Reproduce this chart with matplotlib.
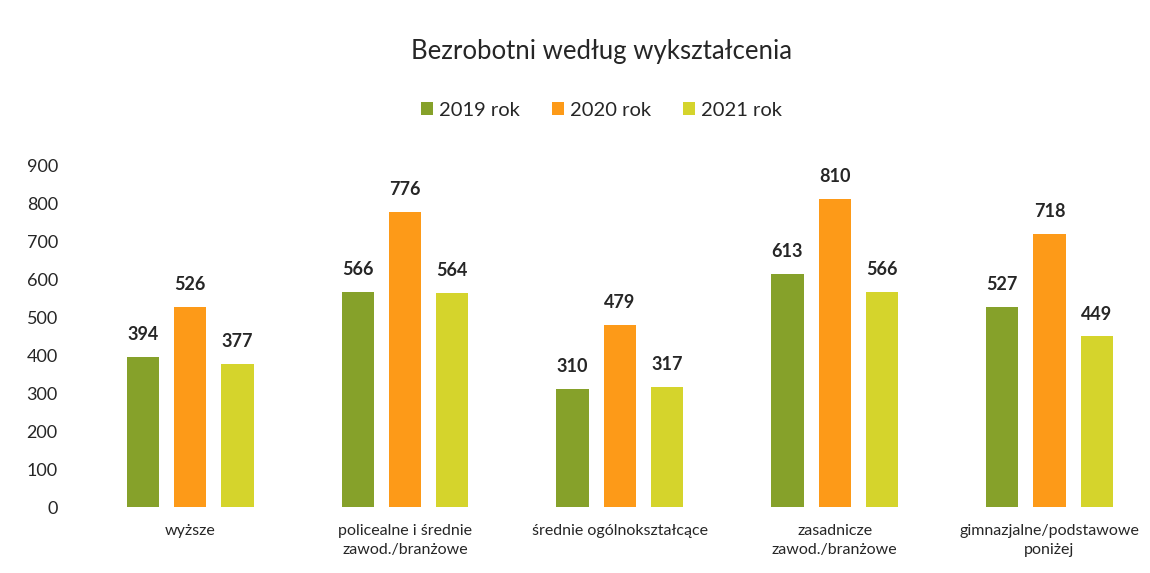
import numpy as np
import matplotlib.pyplot as plt

plt.rcParams['font.family'] = ['Lato', 'DejaVu Sans']

# dane
categories = ['wyższe', 'policealne i średnie\nzawod./branżowe', 'średnie ogólnokształcące',
              'zasadnicze\nzawod./branżowe', 'gimnazjalne/podstawowe\nponiżej']
years = ['2019 rok', '2020 rok', '2021 rok']
v2019 = [394, 566, 310, 613, 527]
v2020 = [526, 776, 479, 810, 718]
v2021 = [377, 564, 317, 566, 449]
colors = ['#86a12a', '#fd9a18', '#d5d42c']

fig = plt.figure(figsize=(11.5, 5.73), dpi=100)
ax = fig.add_axes([0.072, 0.115, 0.934, 0.597])

x = np.arange(len(categories))
width = 0.15
offsets = [-0.22, 0, 0.22]

for vals, off, col, lab in zip([v2019, v2020, v2021], offsets, colors, years):
    bars = ax.bar(x + off, vals, width, color=col, label=lab)
    for b, v in zip(bars, vals):
        ax.annotate(str(v), (b.get_x() + b.get_width() / 2, v), xytext=(0, 10),
                    textcoords='offset points', ha='center', va='bottom',
                    fontsize=13, fontweight='bold', color='#262626')

ax.set_xlim(-0.5, 4.5)
ax.set_ylim(0, 900)
ax.set_yticks(range(0, 901, 100))
ax.set_xticks(x)
ax.set_xticklabels(categories, fontsize=11.5, color='#262626', linespacing=1.45)
ax.tick_params(axis='y', length=0, pad=18, labelsize=13, labelcolor='#262626')
ax.tick_params(axis='x', length=0, pad=12)
for s in ax.spines.values():
    s.set_visible(False)

fig.text(0.523, 0.91, 'Bezrobotni według wykształcenia', ha='center', va='center',
         fontsize=18.5, color='#262626')
fig.legend(loc='center', bbox_to_anchor=(0.523, 0.808), ncol=3, frameon=False,
           fontsize=14.5, handlelength=0.6, handleheight=0.6, handletextpad=0.3,
           columnspacing=1.6, labelcolor='#262626')

plt.savefig('out.png')
